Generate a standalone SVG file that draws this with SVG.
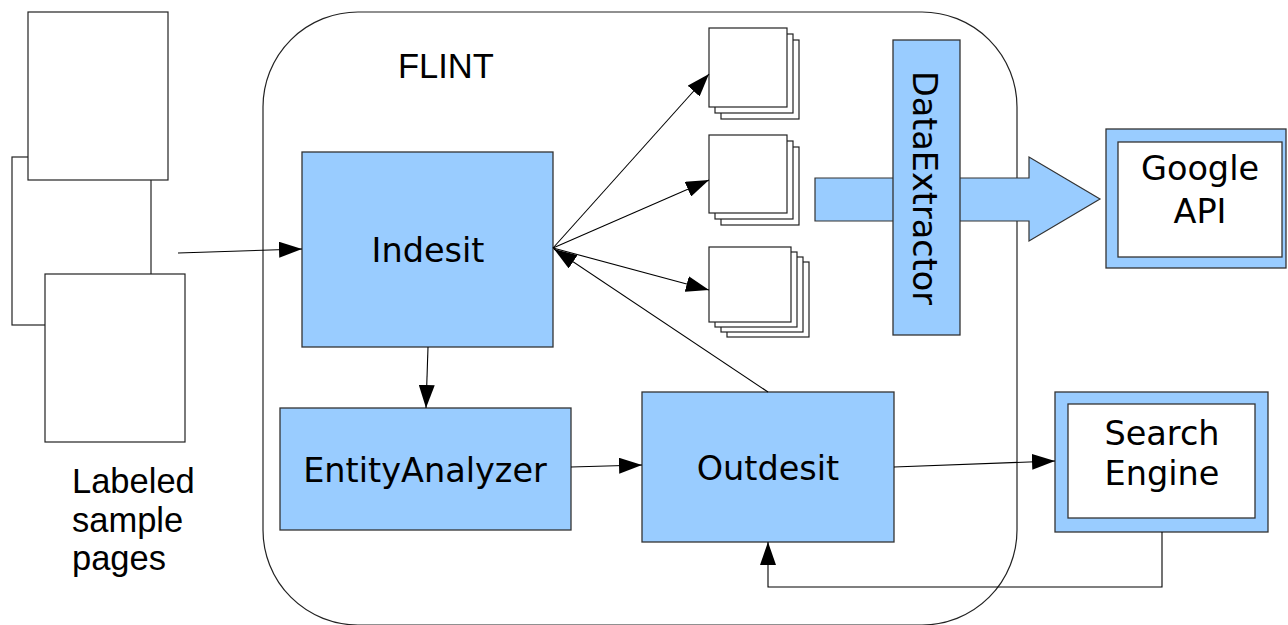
<svg xmlns="http://www.w3.org/2000/svg" width="1288" height="625" viewBox="0 0 1288 625">
<style>
.box{fill:#99ccff;stroke:#333;stroke-width:1.3}
.page{fill:#fff;stroke:#222;stroke-width:1.2}
.white{fill:#fff;stroke:#333;stroke-width:1.3}
.lbl{font-family:"DejaVu Sans",sans-serif;font-size:33.5px;fill:#000;text-anchor:middle}
.plain{font-family:"Liberation Sans",Arial,sans-serif;font-size:34.5px;fill:#000}
.conn{fill:none;stroke:#000;stroke-width:1.1}
</style>
<defs>
<marker id="ah" markerUnits="userSpaceOnUse" markerWidth="23" markerHeight="16" refX="23" refY="8" orient="auto">
<path d="M0,0 L23,8 L0,16 z" fill="#000"/>
</marker>
</defs>
<rect width="1288" height="625" fill="#fff"/>

<g id="flint">
<rect x="263" y="12" width="754" height="613" rx="95" ry="95" fill="none" stroke="#222" stroke-width="1.2"/>
<text class="plain" x="398" y="78">FLINT</text>
</g>

<g id="samplePages">
<rect class="page" x="12" y="157" width="139" height="168"/>
<rect class="page" x="28" y="12" width="140" height="168"/>
<rect class="page" x="45" y="274" width="140" height="168"/>
<text class="plain" x="72" y="493">Labeled</text>
<text class="plain" x="72" y="532">sample</text>
<text class="plain" x="72" y="570">pages</text>
</g>

<g id="indesit">
<rect class="box" x="302" y="152" width="251" height="195"/>
<text class="lbl" x="428" y="262">Indesit</text>
</g>

<g id="entityAnalyzer">
<rect class="box" x="280" y="408" width="291" height="122"/>
<text class="lbl" x="425" y="482">EntityAnalyzer</text>
</g>

<g id="outdesit">
<rect class="box" x="642" y="392" width="252" height="150"/>
<text class="lbl" x="768" y="480">Outdesit</text>
</g>

<g id="stack1">
<rect class="page" x="721" y="40" width="78" height="79"/>
<rect class="page" x="715" y="34" width="78" height="79"/>
<rect class="page" x="709" y="28" width="78" height="79"/>
</g>
<g id="stack2">
<rect class="page" x="721" y="147" width="78" height="78"/>
<rect class="page" x="715" y="141" width="78" height="78"/>
<rect class="page" x="709" y="135" width="78" height="78"/>
</g>
<g id="stack3">
<rect class="page" x="727" y="262" width="82" height="75"/>
<rect class="page" x="721" y="257" width="82" height="75"/>
<rect class="page" x="715" y="252" width="82" height="75"/>
<rect class="page" x="709" y="247" width="82" height="75"/>
</g>

<g id="bigArrow">
<polygon points="815,178 1029,178 1029,157 1100,199 1029,241 1029,221 815,221" fill="#99ccff" stroke="#333" stroke-width="1.2"/>
</g>

<g id="dataExtractor">
<rect class="box" x="893" y="40" width="67" height="295"/>
<text class="lbl" transform="translate(913,188) rotate(90)" x="0" y="0">DataExtractor</text>
</g>

<g id="googleApi">
<rect class="box" x="1106" y="129" width="180" height="139"/>
<rect class="white" x="1118" y="142" width="164" height="115"/>
<text class="lbl" x="1200" y="180">Google</text>
<text class="lbl" x="1200" y="223">API</text>
</g>

<g id="searchEngine">
<rect class="box" x="1055" y="392" width="213" height="140"/>
<rect class="white" x="1068" y="404" width="187" height="114"/>
<text class="lbl" x="1162" y="445">Search</text>
<text class="lbl" x="1162" y="485">Engine</text>
</g>

<g id="connectors">
<line class="conn" x1="178" y1="253" x2="302" y2="249" marker-end="url(#ah)"/>
<line class="conn" x1="553" y1="248" x2="709" y2="74" marker-end="url(#ah)"/>
<line class="conn" x1="553" y1="248" x2="709" y2="180" marker-end="url(#ah)"/>
<line class="conn" x1="553" y1="248" x2="709" y2="290" marker-end="url(#ah)"/>
<line class="conn" x1="768" y1="392" x2="554" y2="249" marker-end="url(#ah)"/>
<line class="conn" x1="428" y1="347" x2="426" y2="408" marker-end="url(#ah)"/>
<line class="conn" x1="571" y1="467" x2="642" y2="465" marker-end="url(#ah)"/>
<line class="conn" x1="894" y1="467" x2="1055" y2="461" marker-end="url(#ah)"/>
<polyline class="conn" points="1162,532 1162,587 768,587 768,542" marker-end="url(#ah)"/>
</g>
</svg>
